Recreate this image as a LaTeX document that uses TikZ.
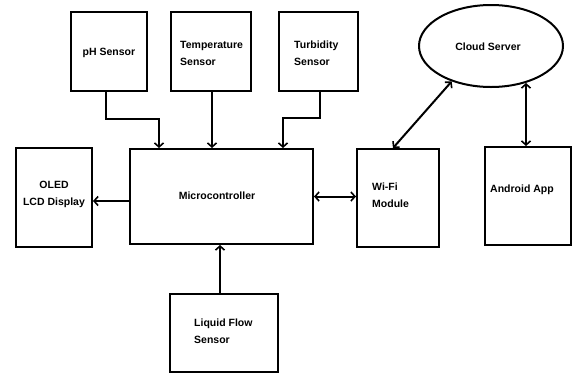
\documentclass[tikz,border=0pt]{standalone}
\usepackage{fontspec}
\setmainfont{Liberation Sans}
\usetikzlibrary{arrows.meta,shapes.geometric,calc}
\begin{document}
\begin{tikzpicture}[x=1pt,y=-1pt,
  box/.style={draw,line width=2pt,inner sep=0pt,minimum width=#1},
  box/.default=80pt,
  lbl/.style={font=\fontsize{10.5}{17}\selectfont\bfseries,inner sep=0pt},
  tip/.tip={Straight Barb[length=4pt,width=9pt,line width=1.6pt]},
  arr/.style={line width=2pt,-tip},
  dbl/.style={line width=2pt,tip-tip}]
\useasboundingbox[fill=white] (0,0) rectangle (572,373);

% blocks
\node[box=76pt,minimum height=79pt] (ph) at (109,51.5) {};
\node[box=80pt,minimum height=79pt] (temp) at (211,51.5) {};
\node[box=79pt,minimum height=79pt] (turb) at (318.5,51.5) {};
\node[draw,ellipse,line width=2pt,minimum width=144pt,minimum height=82pt,inner sep=0pt] (cloud) at (491,46) {};
\node[box=183pt,minimum height=95pt] (micro) at (221.5,196.5) {};
\node[box=76pt,minimum height=99pt] (oled) at (54,197.5) {};
\node[box=108pt,minimum height=78pt] (flow) at (224,332.5) {};
\node[box=82pt,minimum height=98pt] (wifi) at (398,198) {};
\node[box=86pt,minimum height=98pt] (app) at (527.5,196) {};

% labels
\node[lbl] (tph) at (109,53) {pH Sensor};
\node[lbl,anchor=west,align=left] (ttemp) at (180,53.5) {Temperature\\Sensor};
\node[lbl,anchor=west,align=left] (tturb) at (294,53.5) {Turbidity\\Sensor};
\node[lbl] (tcloud) at (488,47) {Cloud Server};
\node[lbl] (tmicro) at (217,196) {Microcontroller};
\node[lbl,align=center] (toled) at (54,194) {OLED\\LCD Display};
\node[lbl,anchor=west,align=left] (tflow) at (194,331) {Liquid Flow\\Sensor};
\node[lbl,anchor=west,align=left] (twifi) at (372,195) {Wi-Fi\\Module};
\node[lbl] (tapp) at (522,190) {Android App};

% connectors
\draw[arr] ([xshift=-3pt]ph.south) -- ++(0,27) -| ([xshift=-62.5pt]micro.north);
\draw[arr] ([xshift=1pt]temp.south) -- ([xshift=1pt]temp.south |- micro.north);
\draw[arr] ([xshift=1.5pt]turb.south) -- ++(0,26) -| ([xshift=61.5pt]micro.north);
\draw[arr] ([yshift=-4.5pt]micro.west) -- ([yshift=-4.5pt]micro.west -| oled.east);
\draw[arr] ([xshift=-4pt]flow.north) -- ([xshift=-4pt]flow.north |- micro.south);
\draw[dbl] (micro.east) -- (micro.east -| wifi.west);
\draw[dbl] ([xshift=-5pt]wifi.north) -- (cloud.222);
\draw[dbl] ([xshift=-1.5pt]app.north) -- ([xshift=-1.5pt]app.north |- cloud.-47);
\end{tikzpicture}
\end{document}
